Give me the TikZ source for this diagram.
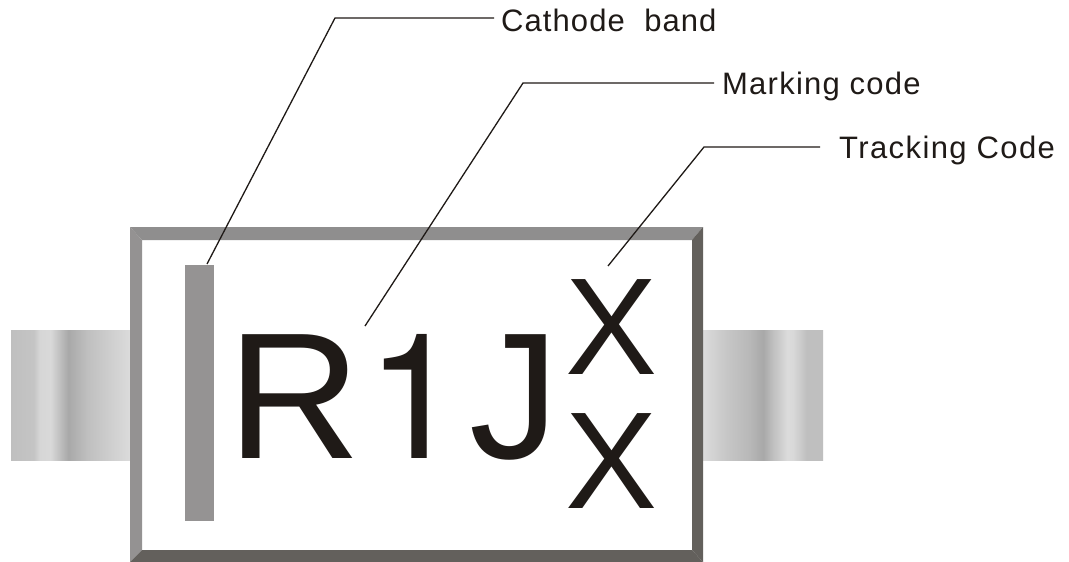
\documentclass[tikz,border=0pt]{standalone}
\usepackage{fontspec}
\setmainfont{Liberation Sans}
\newfontfamily\herosfont{TeX Gyre Heros}
\definecolor{ink}{HTML}{1F1A17}
\definecolor{bevlight}{HTML}{949292}
\definecolor{bevtop}{HTML}{8F8E8E}
\definecolor{bevdark}{HTML}{63605C}
\definecolor{bandgrey}{HTML}{959393}
\pgfdeclarehorizontalshading{leadleft}{100bp}{
 color(0bp)=(black!25);color(25bp)=(black!25);color(34.5bp)=(black!23);color(37bp)=(black!16);color(41.5bp)=(black!15);color(49bp)=(black!34);color(57bp)=(black!25);color(65bp)=(black!20);color(75bp)=(black!14);color(100bp)=(black!14)}
\pgfdeclarehorizontalshading{leadright}{100bp}{
 color(0bp)=(black!14);color(25bp)=(black!14);color(34.5bp)=(black!22);color(44.5bp)=(black!28);color(50bp)=(black!34);color(54bp)=(black!25);color(60bp)=(black!14);color(62.5bp)=(black!15);color(68bp)=(black!25);color(75bp)=(black!25);color(100bp)=(black!25)}
\tikzset{
 leadbox/.style={draw=none,minimum height=130pt,inner sep=0pt,anchor=north west},
 leader/.style={draw=ink,line width=1.3pt},
 lab/.style={inner sep=0pt,anchor=base west,text=ink,font=\fontsize{31}{31}\selectfont},
 big/.style={inner sep=0pt,anchor=base west,text=ink,font=\fontsize{180}{180}\selectfont},
 bigone/.style={inner sep=0pt,anchor=base west,text=ink,font=\fontsize{175}{175}\herosfont},
 bigx/.style={inner sep=0pt,anchor=base west,text=ink,font=\fontsize{138}{138}\selectfont}
}
\begin{document}
\begin{tikzpicture}[x=1pt,y=-1pt]
\useasboundingbox (0,0) rectangle (1069,562);
\fill[white] (0,0) rectangle (1069,562);
% leads
\node[leadbox,minimum width=119pt,shading=leadleft] (leadL) at (11,330) {};
\node[leadbox,minimum width=120pt,shading=leadright] (leadR) at (703,330) {};
% body
\fill[white] (142,240) rectangle (692,550);
\fill[bevtop] (130,227) -- (703,227) -- (692,240) -- (142,240) -- cycle;
\fill[bevlight] (130,227) -- (142,240) -- (142,550) -- (130,562) -- cycle;
\fill[bevdark] (703,227) -- (703,562) -- (692,550) -- (692,240) -- cycle;
\fill[bevdark] (130,562) -- (142,550) -- (692,550) -- (703,562) -- cycle;
% band
\node[fill=bandgrey,inner sep=0pt,minimum width=29pt,minimum height=256pt,anchor=north west] (band) at (185,265) {};
% marking
\node[big,xscale=1.03,transform shape] (mR) at (227.5,458) {R};
\node[bigone] (m1) at (366,458) {1};
\node[big] (mJ) at (469.5,458) {J};
\node[bigx] (x1) at (565.5,374) {X};
\node[bigx] (x2) at (565.5,508) {X};
% labels
\node[lab] (cath) at (501,31) {\addfontfeature{LetterSpace=3.5}Cathode\ \ band};
\node[lab] (mark) at (722,94) {\addfontfeature{LetterSpace=4}Marking code};
\node[lab] (track) at (839,158) {\addfontfeature{LetterSpace=4.5}Tracking Code};
% leaders
\coordinate (c0) at (207,264);
\coordinate (c1) at (335,18);
\coordinate (c2) at (494,18);
\coordinate (m0) at (365,326);
\coordinate (m1b) at (523,83);
\coordinate (m2) at (714,83);
\coordinate (t0) at (608,266);
\coordinate (t1) at (704,147);
\coordinate (t2) at (820,147);
\draw[leader] (c0) -- (c1) -- (c2);
\draw[leader] (m0) -- (m1b) -- (m2);
\draw[leader] (t0) -- (t1) -- (t2);
\end{tikzpicture}
\end{document}
